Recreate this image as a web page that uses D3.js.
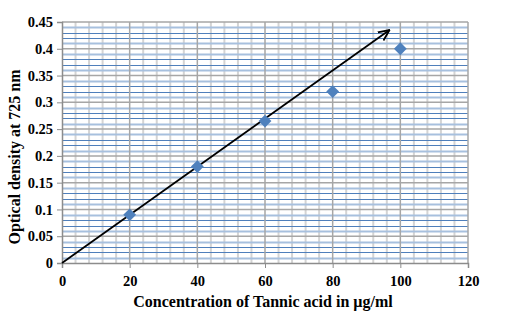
<!DOCTYPE html>
<html>
<head>
<meta charset="utf-8">
<script src="https://cdn.jsdelivr.net/npm/d3@7"></script>
<style>
	body { margin: 0; background: #fff; }
	text { font-family: "Liberation Serif", "Times New Roman", serif; font-weight: bold; }
</style>
</head>
<body>
<div id="chart"></div>
<script>
// data
var concentration = [20, 40, 60, 80, 100];
var density = [0.09, 0.18, 0.265, 0.32, 0.40];
var xTicks = [0, 20, 40, 60, 80, 100, 120];
var yTicks = [0, 0.05, 0.1, 0.15, 0.2, 0.25, 0.3, 0.35, 0.4, 0.45];
var arrowLine = [[0, 0], [96.8, 0.435]];

var width = 506, height = 320;
var margin = {top: 22, right: 38, bottom: 57, left: 62};
var w = width - margin.left - margin.right;
var h = height - margin.top - margin.bottom;

var x = d3.scaleLinear().domain([0, 120]).range([0, w]);
var y = d3.scaleLinear().domain([0, 0.45]).range([h, 0]);

var svg = d3.select("#chart")
	.append("svg")
	.attr("width", width)
	.attr("height", height)
	.append("g")
	.attr("transform", "translate(" + margin.left + "," + margin.top + ")");

// minor vertical grid (every 4)
svg.append("g")
	.selectAll("line")
	.data(d3.range(4, 120, 4).filter(function (d) { return d % 20 != 0; }))
	.enter().append("line")
	.attr("x1", function (d) { return x(d); })
	.attr("x2", function (d) { return x(d); })
	.attr("y1", 0).attr("y2", h)
	.attr("stroke", "#d4d4d4")
	.attr("stroke-width", 2);

// minor horizontal grid (every 0.01), alternating blues
var minorY = d3.range(1, 45).filter(function (i) { return i % 5 != 0; });
svg.append("g")
	.selectAll("line")
	.data(minorY)
	.enter().append("line")
	.attr("x1", 0).attr("x2", w)
	.attr("y1", function (i) { return Math.round(y(i / 100)) + 0.5; })
	.attr("y2", function (i) { return Math.round(y(i / 100)) + 0.5; })
	.attr("stroke", function (i) { return (i % 5 == 1 || i % 5 == 4) ? "#a7c0de" : "#4f7fbb"; })
	.attr("stroke-width", function (i) { return (i % 5 == 1 || i % 5 == 4) ? 2 : 1; });

// major grid
svg.append("g")
	.selectAll("line")
	.data(xTicks.slice(1))
	.enter().append("line")
	.attr("x1", function (d) { return x(d); })
	.attr("x2", function (d) { return x(d); })
	.attr("y1", 0).attr("y2", h)
	.attr("stroke", "#a6a6a6")
	.attr("stroke-width", 1.5);

svg.append("g")
	.selectAll("line")
	.data(yTicks.slice(1))
	.enter().append("line")
	.attr("x1", 0).attr("x2", w)
	.attr("y1", function (d) { return y(d); })
	.attr("y2", function (d) { return y(d); })
	.attr("stroke", "#a6a6a6")
	.attr("stroke-width", 1.5);

// axes
var xAxis = d3.axisBottom(x).tickValues(xTicks).tickSize(5).tickPadding(8).tickFormat(d3.format("d"));
var yAxis = d3.axisLeft(y).tickValues(yTicks).tickSize(5).tickPadding(4).tickFormat(function (d) { return d == 0 ? "0" : String(+d.toFixed(2)); });

var gx = svg.append("g")
	.attr("transform", "translate(0," + h + ")")
	.call(xAxis);
var gy = svg.append("g").call(yAxis);

[gx, gy].forEach(function (g) {
	g.select(".domain").attr("stroke", "#8c8c8c").attr("stroke-width", 1.5);
	g.selectAll(".tick line").attr("stroke", "#8c8c8c");
	g.selectAll(".tick text")
		.attr("fill", "#000")
		.style("font-size", "14.5px")
		.style("font-family", "Liberation Serif")
		.style("font-weight", "bold");
});

// arrow line
svg.append("defs").append("marker")
	.attr("id", "arrow")
	.attr("viewBox", "0 -6 12 12")
	.attr("refX", 11)
	.attr("refY", 0)
	.attr("markerWidth", 12)
	.attr("markerHeight", 12)
	.attr("markerUnits", "userSpaceOnUse")
	.attr("orient", "auto")
	.append("path")
	.attr("d", "M0,-5L11,0L0,5")
	.attr("fill", "none")
	.attr("stroke", "#000")
	.attr("stroke-width", 1.8);

var line = d3.line()
	.x(function (d) { return x(d[0]); })
	.y(function (d) { return y(d[1]); });

svg.append("path")
	.attr("d", line(arrowLine))
	.attr("stroke", "#000")
	.attr("stroke-width", 1.8)
	.attr("fill", "none")
	.attr("marker-end", "url(#arrow)");

// diamond markers
svg.append("g")
	.selectAll("path")
	.data(concentration)
	.enter().append("path")
	.attr("transform", function (d, i) { return "translate(" + x(d) + "," + y(density[i]) + ")"; })
	.attr("d", d3.symbol().type(d3.symbolDiamond2).size(105))
	.attr("fill", "#4f81bd");

// axis titles
svg.append("text")
	.attr("x", w / 2 - 2)
	.attr("y", h + 44)
	.attr("text-anchor", "middle")
	.style("font-size", "16px")
	.text("Concentration of Tannic acid in µg/ml");

svg.append("text")
	.attr("transform", "rotate(-90)")
	.attr("x", -135)
	.attr("y", -42)
	.attr("text-anchor", "middle")
	.style("font-size", "16px")
	.text("Optical density at 725 nm");
</script>
</body>
</html>
